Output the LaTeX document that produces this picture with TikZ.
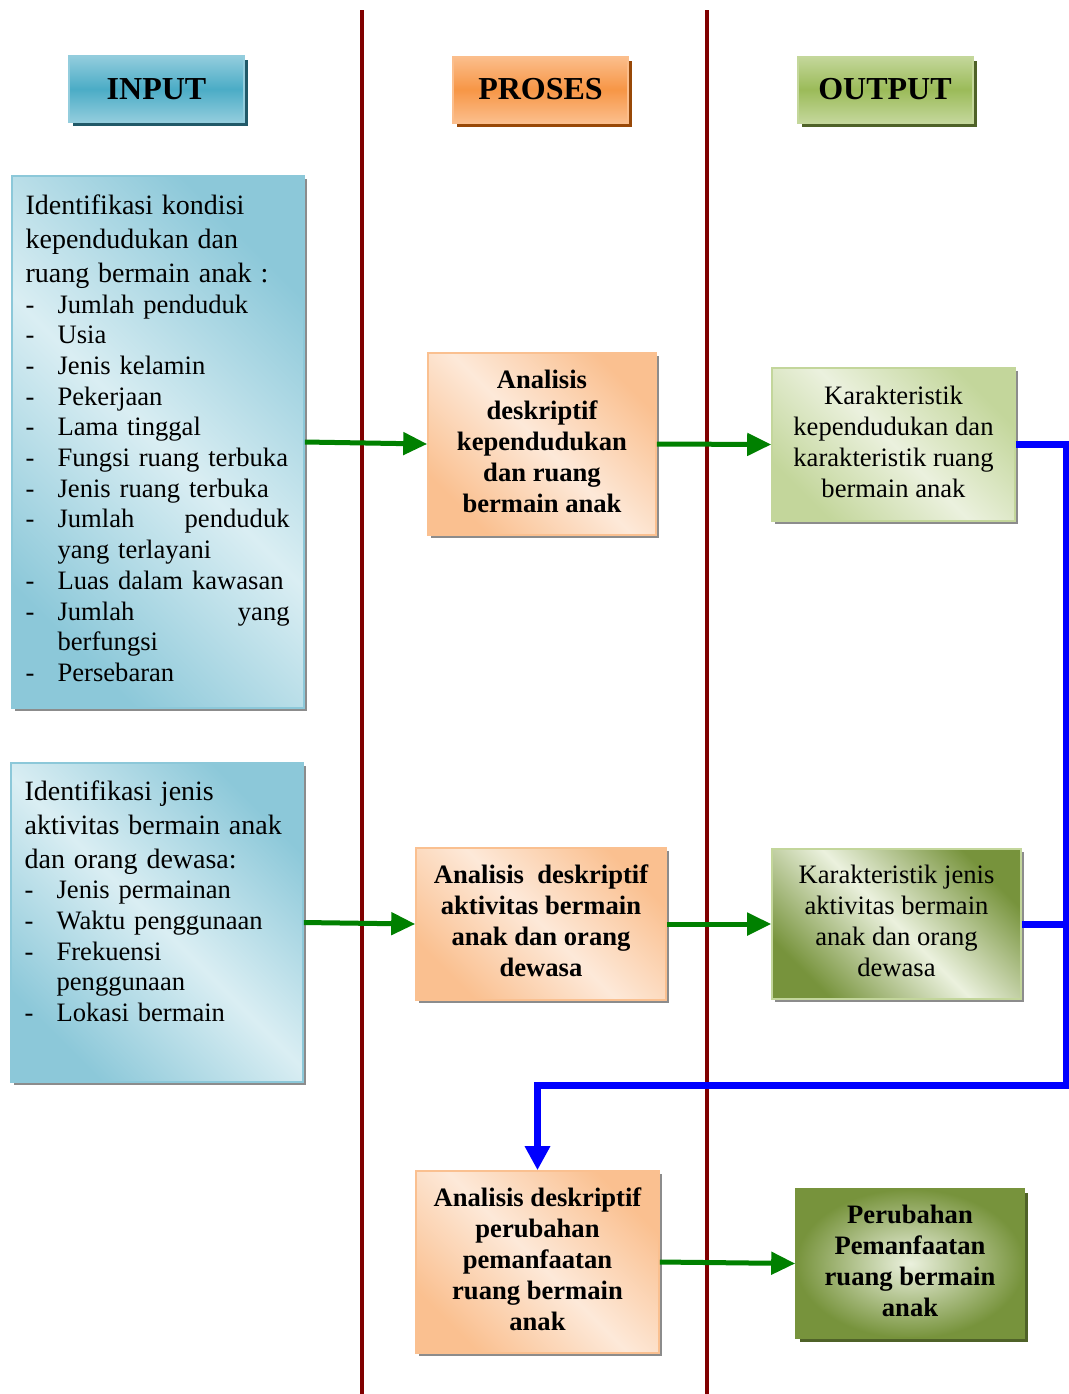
\documentclass[tikz,border=0pt]{standalone}
\usepackage{fontspec}
\setmainfont{Liberation Serif}
\usepackage{xcolor}
\usetikzlibrary{arrows.meta, positioning, shadows}

\setlength{\parindent}{0pt}

\definecolor{sepred}{RGB}{128,0,0}
\definecolor{arrgreen}{RGB}{0,128,0}
\definecolor{arrblue}{RGB}{0,0,255}
% header colours
\definecolor{hblueE}{RGB}{147,205,221}
\definecolor{hblueM}{RGB}{75,172,198}
\definecolor{hblueS}{RGB}{33,89,104}
\definecolor{horaE}{RGB}{251,190,140}
\definecolor{horaM}{RGB}{247,150,70}
\definecolor{horaS}{RGB}{152,72,7}
\definecolor{hgrnE}{RGB}{196,215,155}
\definecolor{hgrnM}{RGB}{155,187,89}
\definecolor{hgrnS}{RGB}{79,98,40}
% box colours
\definecolor{bblueD}{RGB}{140,200,217}
\definecolor{bblueL}{RGB}{218,238,243}
\definecolor{boraD}{RGB}{250,192,144}
\definecolor{boraL}{RGB}{253,233,217}
\definecolor{bgrnD}{RGB}{195,214,155}
\definecolor{bgrnL}{RGB}{235,241,222}
\definecolor{bolive}{RGB}{119,147,60}

\newcommand{\ditem}{\makebox[16pt][l]{-}}
\newcommand{\dskip}{\hspace*{16pt}}

\begin{document}
\begin{tikzpicture}[x=0.5pt, y=-0.5pt,
        headbox/.style n args={4}{rectangle, inner sep=0pt, minimum width=87.5pt,
            minimum height=33pt, line width=1pt, draw=#1, top color=#2, bottom color=#2,
            middle color=#3, general shadow={fill=#4, shadow xshift=2pt, shadow yshift=-2pt},
            font=\bfseries\fontsize{16}{19}\selectfont},
        box/.style n args={3}{rectangle, inner sep=0pt, line width=0.8pt, draw=#1,
            top color=#2, bottom color=#2, middle color=#3, shading angle=-45,
            general shadow={fill=black!45, shadow xshift=1.5pt, shadow yshift=-1.5pt},
            align=center, text depth=3pt, font=\fontsize{13.3}{15.5}\selectfont},
        listtext/.style={inner sep=0pt, text width=133pt, align=left,
            font=\fontsize{13.3}{15.35}\selectfont},
        sepline/.style={draw=sepred, line width=2pt},
        arrow/.style={draw=arrgreen, line width=2.5pt, -{Triangle[length=12pt,width=11pt]}},
        barrow/.style={draw=arrblue, line width=3.5pt, line join=miter}
    ]
        \useasboundingbox (0,0) rectangle (1069,1394);

        % column separators
        \coordinate (s1top) at (362,10);
        \coordinate (s1bot) at (362,1394);
        \coordinate (s2top) at (707,10);
        \coordinate (s2bot) at (707,1394);
        \draw[sepline] (s1top) -- (s1bot);
        \draw[sepline] (s2top) -- (s2bot);

        % headers
        \node[headbox={hblueE}{hblueE}{hblueM}{hblueS}] (hin) at (156.5,89) {INPUT};
        \node[headbox={horaE}{horaE}{horaM}{horaS}] (hpro) at (540.5,89.5) {PROSES};
        \node[headbox={hgrnE}{hgrnE}{hgrnM}{hgrnS}] (hout) at (885,89.5) {OUTPUT};

        % input
        \node[box={bblueD}{bblueD}{bblueL}, minimum width=146pt, minimum height=266pt] (in1) at (158,442) {};
        \node[listtext, anchor=north west] (in1txt) at ([shift={(14,19)}]in1.north west) {%
            {\fontsize{14}{17}\selectfont Identifikasi kondisi\\ kependudukan dan\\ ruang bermain anak :\par}
            \ditem Jumlah penduduk\\
            \ditem Usia\\
            \ditem Jenis kelamin\\
            \ditem Pekerjaan\\
            \ditem Lama tinggal\\
            \ditem Fungsi ruang terbuka\\
            \ditem Jenis ruang terbuka\\
            \ditem\makebox[116pt][s]{Jumlah\hfill penduduk}\\
            \dskip yang terlayani\\
            \ditem Luas dalam kawasan\\
            \ditem\makebox[116pt][s]{Jumlah\hfill yang}\\
            \dskip berfungsi\\
            \ditem Persebaran};
        \node[box={bblueD}{bblueD}{bblueL}, minimum width=146pt, minimum height=159.5pt] (in2) at (157,922.5) {};
        \node[listtext, anchor=north west] (in2txt) at ([shift={(14,18.5)}]in2.north west) {%
            {\fontsize{14}{16.8}\selectfont Identifikasi jenis\\ aktivitas bermain anak\\ dan orang dewasa:\par}
            \ditem Jenis permainan\\
            \ditem Waktu penggunaan\\
            \ditem Frekuensi\\
            \dskip penggunaan\\
            \ditem Lokasi bermain};

        % proses
        \node[box={boraD}{boraD}{boraL}, minimum width=114pt, minimum height=91pt, font=\bfseries\fontsize{13.3}{15.5}\selectfont] (pr1) at (542,444)
            {Analisis\\ deskriptif\\ kependudukan\\ dan ruang\\ bermain anak};
        \node[box={boraD}{boraD}{boraL}, minimum width=125pt, minimum height=76pt, font=\bfseries\fontsize{13.3}{15.5}\selectfont] (pr2) at (541,924)
            {Analisis\ \ deskriptif\\ aktivitas bermain\\ anak dan orang\\ dewasa};
        \node[box={boraD}{boraD}{boraL}, minimum width=121.5pt, minimum height=91pt, font=\bfseries\fontsize{13.3}{15.5}\selectfont] (pr3) at (537.5,1262)
            {Analisis deskriptif\\ perubahan\\ pemanfaatan\\ ruang bermain\\ anak};

        % output
        \node[box={bgrnD}{bgrnD}{bgrnL}, minimum width=121.5pt, minimum height=76.5pt] (out1) at (893.5,444.5)
            {Karakteristik\\ kependudukan dan\\ karakteristik ruang\\ bermain anak};
        \node[box={bgrnD}{bolive}{bgrnL}, minimum width=124.5pt, minimum height=75pt] (out2) at (896.5,924)
            {Karakteristik jenis\\ aktivitas bermain\\ anak dan orang\\ dewasa};
        \node[rectangle, inner sep=0pt, line width=0.8pt, draw=bolive, inner color=bgrnL, outer color=bolive,
            general shadow={fill=hgrnS, shadow xshift=2pt, shadow yshift=-2pt}, align=center, text depth=3pt,
            minimum width=114pt, minimum height=74.5pt, font=\bfseries\fontsize{13.3}{15.5}\selectfont] (out3) at (910,1263.5)
            {Perubahan\\ Pemanfaatan\\ ruang bermain\\ anak};

        % green arrows
        \draw[arrow] (in1.east) -- (pr1.west);
        \draw[arrow] (pr1.east) -- (out1.west);
        \draw[arrow] (in2.east) -- (pr2.west);
        \draw[arrow] (pr2.east) -- (out2.west);
        \draw[arrow] (pr3.east) -- (out3.west);

        % feedback
        \coordinate (bR) at (1066,1085);
        \coordinate (bL) at (537.5,1085);
        \draw[barrow] (out2.east) -- (out2.east -| bR);
        \draw[barrow, -{Triangle[length=12pt,width=12pt]}] (out1.east) -| (bR) -- (bL) -- (pr3.north);
    \end{tikzpicture}
\end{document}
